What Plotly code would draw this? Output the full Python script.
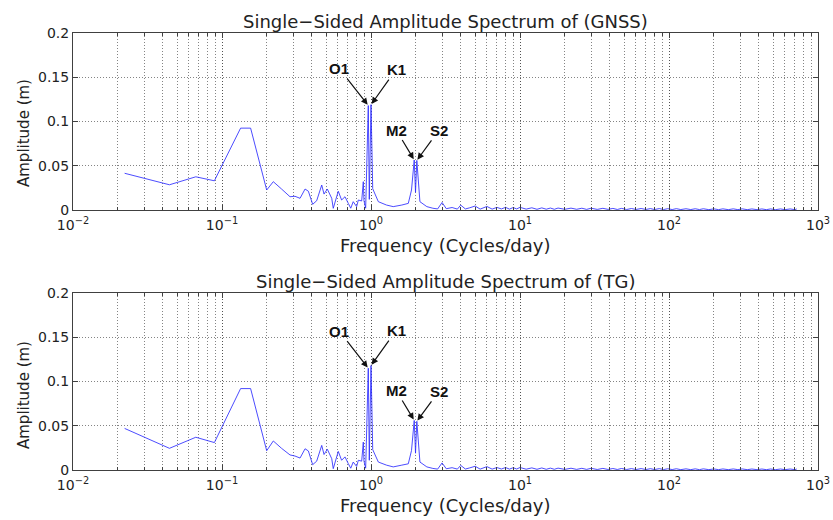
import numpy as np
import plotly.graph_objects as go

# ---------------- data ----------------
# GNSS spectrum
freq_gnss = [0.0222, 0.0444, 0.0667, 0.0889, 0.1333, 0.1556, 0.1995, 0.221, 0.251, 0.286,
             0.309, 0.334, 0.361, 0.380, 0.406, 0.432, 0.467, 0.484, 0.509, 0.545,
             0.558, 0.603, 0.635, 0.669, 0.704, 0.731, 0.760, 0.801, 0.822, 0.866,
             0.888, 0.897, 0.921, 0.959, 0.974, 1.000, 1.027, 1.064, 1.12, 1.27,
             1.41, 1.61, 1.78, 1.87, 1.95, 1.99, 2.03, 2.13, 2.37,
             2.6, 2.8, 3.0, 3.2, 3.5, 3.8, 4.0, 4.3, 4.6, 5.0, 5.4, 5.8, 6.0, 6.5, 7.0,
             7.5, 8.0, 8.5, 9.0, 9.5, 10, 11, 12, 13, 14, 15, 16, 17, 18, 20, 22, 24, 26,
             28, 30, 33, 36, 39, 42, 45, 48, 52, 56, 60, 65, 70, 75, 80, 86, 92, 98, 105,
             112, 120, 130, 140, 150, 160, 170, 185, 200, 215, 230, 250, 270, 290, 310,
             335, 360, 390, 420, 450, 480, 520, 560, 600, 650, 700, 720]
amp_gnss = [0.0415, 0.0285, 0.0375, 0.0330, 0.0925, 0.0925, 0.0226, 0.0320, 0.0237, 0.0150,
            0.0155, 0.0132, 0.0237, 0.0212, 0.0064, 0.0105, 0.0282, 0.0180, 0.0237, 0.0132,
            0.0019, 0.0212, 0.0113, 0.0150, 0.0075, 0.0020, 0.0094, 0.0038, 0.0113, 0.0102,
            0.0320, 0.0105, 0.0020, 0.1180, 0.0120, 0.1190, 0.0240, 0.0188, 0.0094, 0.0056,
            0.0038, 0.0056, 0.0075, 0.0226, 0.0565, 0.0200, 0.0560, 0.0094, 0.0038,
            0.0020, 0.0012, 0.0085, 0.0015, 0.0028, 0.0010, 0.0055, 0.0012, 0.0025, 0.0045,
            0.0010, 0.0025, 0.0040, 0.0010, 0.0030, 0.0012, 0.0030, 0.0010, 0.0028, 0.0012,
            0.0030, 0.0010, 0.0025, 0.0008, 0.0024, 0.0009, 0.0022, 0.0008, 0.0022, 0.0008,
            0.0021, 0.0008, 0.0020, 0.0007, 0.0020, 0.0007, 0.0019, 0.0007, 0.0018, 0.0006,
            0.0018, 0.0006, 0.0017, 0.0006, 0.0017, 0.0006, 0.0016, 0.0005, 0.0016, 0.0005,
            0.0015, 0.0005, 0.0015, 0.0005, 0.0014, 0.0005, 0.0014, 0.0005, 0.0014, 0.0004,
            0.0013, 0.0004, 0.0013, 0.0004, 0.0013, 0.0004, 0.0013, 0.0004, 0.0012, 0.0004,
            0.0012, 0.0004, 0.0012, 0.0004, 0.0012, 0.0004, 0.0012, 0.0004, 0.0012]

# TG spectrum
freq_tg = list(freq_gnss)
amp_tg = [0.0470, 0.0245, 0.0370, 0.0310, 0.0920, 0.0920, 0.0218, 0.0328, 0.0245, 0.0170,
          0.0158, 0.0135, 0.0240, 0.0215, 0.0060, 0.0100, 0.0278, 0.0175, 0.0235, 0.0128,
          0.0015, 0.0210, 0.0110, 0.0148, 0.0072, 0.0020, 0.0090, 0.0040, 0.0110, 0.0100,
          0.0315, 0.0100, 0.0020, 0.1150, 0.0110, 0.1180, 0.0230, 0.0180, 0.0090, 0.0055,
          0.0035, 0.0055, 0.0070, 0.0220, 0.0560, 0.0190, 0.0550, 0.0090, 0.0035,
          0.0018, 0.0010, 0.0080, 0.0014, 0.0026, 0.0010, 0.0052, 0.0011, 0.0024, 0.0042,
          0.0010, 0.0024, 0.0038, 0.0010, 0.0028, 0.0011, 0.0028, 0.0010, 0.0026, 0.0011,
          0.0028, 0.0009, 0.0024, 0.0008, 0.0023, 0.0008, 0.0021, 0.0008, 0.0021, 0.0007,
          0.0020, 0.0007, 0.0019, 0.0007, 0.0019, 0.0006, 0.0018, 0.0006, 0.0017, 0.0006,
          0.0017, 0.0006, 0.0016, 0.0005, 0.0016, 0.0005, 0.0015, 0.0005, 0.0015, 0.0005,
          0.0014, 0.0005, 0.0014, 0.0004, 0.0013, 0.0004, 0.0013, 0.0004, 0.0013, 0.0004,
          0.0012, 0.0004, 0.0012, 0.0004, 0.0012, 0.0004, 0.0012, 0.0004, 0.0011, 0.0004,
          0.0011, 0.0004, 0.0011, 0.0004, 0.0011, 0.0004, 0.0011, 0.0004, 0.0011]

# tidal constituent labels and the index of the peak they point at
tide_labels = ["O1", "K1", "M2", "S2"]
tide_index = [33, 35, 44, 46]

titles = ["Single\u2212Sided Amplitude Spectrum of (GNSS)",
          "Single\u2212Sided Amplitude Spectrum of (TG)"]
x_title = "Frequency (Cycles/day)"
y_title = "Amplitude (m)"
x_tickvals = [0.01, 0.1, 1, 10, 100, 1000]
x_ticktext = ["10<sup>\u22122</sup>", "10<sup>\u22121</sup>", "10<sup>0</sup>",
              "10<sup>1</sup>", "10<sup>2</sup>", "10<sup>3</sup>"]
y_tickvals = [0, 0.05, 0.1, 0.15, 0.2]
y_ticktext = ["0", "0.05", "0.1", "0.15", "0.2"]

# ---------------- figure ----------------
W, H = 833, 520
ML, MR, MT, MB = 73, 15, 33, 50
fig = go.Figure()

line_style = dict(color="rgba(45,45,255,0.85)", width=1)
fig.add_trace(go.Scatter(x=freq_gnss, y=amp_gnss, mode="lines", line=line_style,
                         xaxis="x", yaxis="y", showlegend=False, hoverinfo="skip"))
fig.add_trace(go.Scatter(x=freq_tg, y=amp_tg, mode="lines", line=line_style,
                         xaxis="x2", yaxis="y2", showlegend=False, hoverinfo="skip"))

FONT = "DejaVu Sans, Liberation Sans, Arial"
grid_col = "rgba(50,50,50,0.6)"
GDASH = "1px,2px"

def xaxis_cfg(anchor):
    return dict(type="log", range=[-2, 3], tickvals=x_tickvals, ticktext=x_ticktext,
                anchor=anchor, automargin=False, ticklabelstandoff=2,
                showline=True, linecolor="#404040", linewidth=1, mirror="ticks",
                ticks="inside", ticklen=5, tickcolor="#404040",
                showgrid=True, gridcolor=grid_col, griddash=GDASH, gridwidth=1,
                minor=dict(dtick="D1", ticks="inside", ticklen=3, tickcolor="#404040",
                           showgrid=True, gridcolor=grid_col, griddash=GDASH, gridwidth=1),
                tickfont=dict(family=FONT, size=14, color="#222"),
                zeroline=False)

def yaxis_cfg(anchor, domain):
    return dict(range=[0, 0.2], domain=domain, anchor=anchor, automargin=False,
                tickvals=y_tickvals, ticktext=y_ticktext,
                showline=True, linecolor="#404040", linewidth=1, mirror="ticks",
                ticks="inside", ticklen=5, tickcolor="#404040",
                showgrid=True, gridcolor=grid_col, griddash=GDASH, gridwidth=1,
                tickfont=dict(family=FONT, size=14, color="#222"),
                zeroline=False)

plot_h = H - MT - MB
top_dom = [(470 - 210) / plot_h, 1.0]
bot_dom = [0.0, (470 - 293) / plot_h]

fig.update_layout(
    width=W, height=H,
    margin=dict(l=ML, r=MR, t=MT, b=MB, autoexpand=False),
    paper_bgcolor="white", plot_bgcolor="white",
    xaxis=xaxis_cfg("y"), yaxis=yaxis_cfg("x", top_dom),
    xaxis2=xaxis_cfg("y2"), yaxis2=yaxis_cfg("x2", bot_dom),
)

anns = []
def py(pix):
    return (470 - pix) / plot_h

# titles and axis titles
for i, (tcy, xcy, ycy) in enumerate([(21, 245, 133), (281, 505, 395)]):
    anns.append(dict(text=titles[i], xref="paper", yref="paper", x=0.5, y=py(tcy),
                     xanchor="center", yanchor="middle", showarrow=False,
                     font=dict(family=FONT, size=18, color="#222")))
    anns.append(dict(text=x_title, xref="paper", yref="paper", x=0.5, y=py(xcy),
                     xanchor="center", yanchor="middle", showarrow=False,
                     font=dict(family=FONT, size=18, color="#222")))
    anns.append(dict(text=y_title, xref="paper", yref="paper", x=(24 - ML) / (W - ML - MR),
                     y=py(ycy), xanchor="center", yanchor="middle", showarrow=False,
                     textangle=-90, font=dict(family=FONT, size=15, color="#222")))

# arrows to tidal peaks
offsets = [(-29, -37), (25, -35), (-18, -30), (22, -30)]
for (xs, ys), fr, am in [(("x", "y"), freq_gnss, amp_gnss), (("x2", "y2"), freq_tg, amp_tg)]:
    for lab, idx, (ax, ay) in zip(tide_labels, tide_index, offsets):
        anns.append(dict(text="<b>%s</b>" % lab, xref=xs, yref=ys,
                         x=float(np.log10(fr[idx])), y=am[idx],
                         ax=ax, ay=ay, axref="pixel", ayref="pixel",
                         showarrow=True, arrowhead=2, arrowsize=1.1, arrowwidth=1.2,
                         arrowcolor="#111", standoff=1,
                         font=dict(family="Liberation Sans, Arial", size=15, color="#111")))

fig.update_layout(annotations=anns)
fig.write_html("out.html", config={"displayModeBar": False},
               post_script="document.body.style.margin='0';document.body.style.padding='0';")
